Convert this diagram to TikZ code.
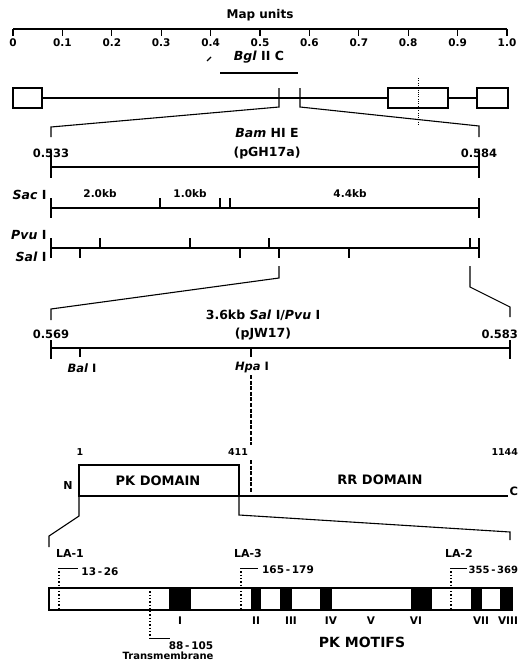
\documentclass[tikz,border=0pt]{standalone}
\usepackage{fontspec}
\setmainfont{DejaVu Sans}
\usetikzlibrary{positioning}

\newcommand{\fsz}[1]{\fontsize{#1}{#1}\selectfont}

\begin{document}
\begin{tikzpicture}[x=1pt, y=-1pt, line width=1.1pt,
  lbl/.style={font=\bfseries\fsz{10.5}, inner sep=0pt},
  ttl/.style={font=\bfseries\fsz{12.5}, inner sep=0pt},
  enz/.style={font=\bfseries\fsz{12.5}, inner sep=0pt, anchor=east},
  dom/.style={font=\bfseries\fsz{13}, inner sep=0pt},
  dots/.style={line width=1.3pt, dash pattern=on 1.3pt off 2pt},
  hpadash/.style={line width=2.4pt, dash pattern=on 4pt off 1.6pt},
  motif/.style={fill=black}]
  \useasboundingbox (0,0) rectangle (519,661);

  % Map units scale
  \node[lbl, font=\bfseries\fsz{12}] (mapunits) at (260,15) {Map units};
  \draw (13,29) -- (507,29);
  \foreach \i/\t in {0/0,1/0.1,2/0.2,3/0.3,4/0.4,5/0.5,6/0.6,7/0.7,8/0.8,9/0.9,10/1.0}{
    \draw (13+49.4*\i,29) -- ++(0,7);
    \node[lbl] (mu\i) at (13+49.4*\i,43) {\t};
  }

  % Bgl II C fragment
  \node[ttl] (bgl) at (259,57) {\textit{Bgl} II C};
  \draw (207,61) -- (211,57);
  \draw (220,73) -- (298,73);

  % Genome
  \draw (13,88) rectangle (42,108);
  \draw (42,98) -- (388,98);
  \draw (388,88) rectangle (448,108);
  \draw (448,98) -- (477,98);
  \draw (477,88) rectangle (508,108);
  \draw[line width=0.8pt, dash pattern=on 1pt off 1.3pt] (418,78) -- (418,125);

  % Bam HI E expansion
  \draw (279,88) -- (279,107) -- (51,127) -- (51,137);
  \draw (300,88) -- (300,107) -- (479,126) -- (479,137);

  % Bam HI E map
  \node[ttl] (bam) at (267,133) {\textit{Bam} HI E};
  \node[ttl] (pgh) at (267,153) {(pGH17a)};
  \node[lbl, font=\bfseries\fsz{11.5}] (b533) at (51,153) {0.533};
  \node[lbl, font=\bfseries\fsz{11.5}] (b584) at (479,153) {0.584};
  \draw (51,167) -- (479,167);
  \draw (51,150) -- (51,178);
  \draw (479,150) -- (479,178);

  % Sac I
  \node[enz] (sac) at (47,195) {\textit{Sac} I};
  \draw (51,208) -- (479,208);
  \draw (51,198) -- (51,218);
  \draw (479,198) -- (479,218);
  \foreach \x in {160,220,230} \draw (\x,198) -- (\x,208);
  \node[lbl] (kb2) at (100,194) {2.0kb};
  \node[lbl] (kb1) at (190,194) {1.0kb};
  \node[lbl] (kb4) at (350,194) {4.4kb};

  % Pvu I / Sal I
  \node[enz] (pvu) at (47,235) {\textit{Pvu} I};
  \node[enz] (sal) at (47,257) {\textit{Sal} I};
  \draw (51,248) -- (479,248);
  \draw (51,238) -- (51,258);
  \draw (479,238) -- (479,258);
  \foreach \x in {100,190,269,470} \draw (\x,238) -- (\x,248);
  \foreach \x in {80,240,279,349} \draw (\x,248) -- (\x,258);

  % pJW17 expansion
  \draw (279,266) -- (279,278) -- (51,309) -- (51,320);
  \draw (470,266) -- (470,287) -- (510,307) -- (510,317);

  % pJW17 map
  \node[ttl] (salpvu) at (263,315) {3.6kb \textit{Sal} I/\textit{Pvu} I};
  \node[ttl] (pjw) at (263,334) {(pJW17)};
  \node[lbl, font=\bfseries\fsz{11.5}] (j569) at (51,334) {0.569};
  \node[lbl, font=\bfseries\fsz{11.5}, anchor=east] (j583) at (518.5,334) {0.583};
  \draw (51,348) -- (510,348);
  \draw (51,340) -- (51,359);
  \draw (510,340) -- (510,359);
  \draw (80,348) -- (80,357);
  \coordinate (hpasite) at (251,348);
  \draw (hpasite) -- ++(0,9);
  \node[lbl, font=\bfseries\fsz{11.5}] (bal) at (82,368) {\textit{Bal} I};
  \node[lbl, font=\bfseries\fsz{11.5}] (hpa) at (252,368) {\textit{Hpa} I};

  % Hpa I site carried down to the protein
  \coordinate (hpatop) at (251,375);
  \coordinate (hpagap) at (251,445);
  \coordinate (hpamid) at (251,460);
  \coordinate (hpaend) at (251,492);
  \draw[hpadash] (hpatop) -- (hpagap);
  \draw[hpadash] (hpamid) -- (hpaend);

  % Protein: PK and RR domains
  \node[lbl, font=\bfseries\fsz{9.5}] (a1) at (80,452) {1};
  \node[lbl, font=\bfseries\fsz{9.5}] (a411) at (238,452) {411};
  \node[lbl, font=\bfseries\fsz{9.5}, anchor=east] (a1144) at (518.5,452) {1144};
  \draw (79,465) rectangle (239,496);
  \node[dom] (pk) at (158,481) {PK DOMAIN};
  \node[dom] (rr) at (380,480) {RR DOMAIN};
  \draw (79,496) -- (508,496);
  \node[lbl, font=\bfseries\fsz{11}] (nterm) at (68,485) {N};
  \node[lbl, font=\bfseries\fsz{11.5}, anchor=west] (cterm) at (509,491) {C};

  % PK expansion
  \draw (79,496) -- (79,516) -- (49,536) -- (49,547);
  \draw (239,496) -- (239,515) -- (510,532) -- (510,540);

  % Kinase domain bar with motifs
  \foreach \a/\b in {169/191,251/261,280/292,320/332,411/432,471/482,500/512}
    \fill[motif] (\a,588) rectangle (\b,610);
  \draw (49,588) rectangle (512,610);

  % LA epitopes
  \node[lbl, font=\bfseries\fsz{11}] (la1) at (70,553) {LA-1};
  \node[lbl, font=\bfseries\fsz{11}] (la3) at (248,553) {LA-3};
  \node[lbl, font=\bfseries\fsz{11}] (la2) at (459,553) {LA-2};
  \draw[dots] (59,568) -- (59,610);
  \draw[line width=0.9pt] (59,568) -- (78,568);
  \node[lbl] (r1) at (100,572) {13\,-\,26};
  \draw[dots] (241,568) -- (241,610);
  \draw[line width=0.9pt] (241,568) -- (258,568);
  \node[lbl] (r3) at (288,570) {165\,-\,179};
  \draw[dots] (451,568) -- (451,610);
  \draw[line width=0.9pt] (451,568) -- (467,568);
  \node[lbl, font=\bfseries\fsz{10}, anchor=east] (r2) at (518.5,570) {355\,-\,369};

  % Transmembrane
  \draw[dots] (150,588) -- (150,638);
  \draw[line width=0.9pt] (150,638) -- (170,638);
  \node[lbl] (rtm) at (191,646) {88\,-\,105};
  \node[lbl, font=\bfseries\fsz{10}, anchor=east] (tm) at (214,656) {Transmembrane};

  % PK motifs
  \foreach \r/\x in {I/180,II/256,III/291,IV/331,V/371,VI/416,VII/481}
    \node[lbl] (m\r) at (\x,621) {\r};
  \node[lbl, anchor=east] (mVIII) at (518.5,621) {VIII};
  \node[dom, font=\bfseries\fsz{14}] (motifs) at (362,642) {PK MOTIFS};
\end{tikzpicture}
\end{document}
